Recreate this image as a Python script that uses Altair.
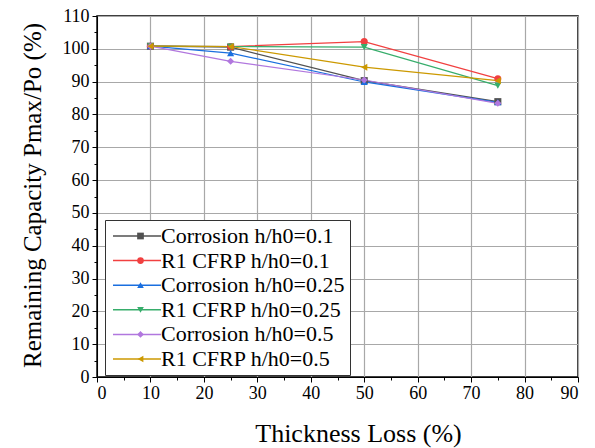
import altair as alt
import pandas as pd

thickness_loss = [10, 25, 50, 75]
series_names = [
    "Corrosion h/h0=0.1",
    "R1 CFRP h/h0=0.1",
    "Corrosion h/h0=0.25",
    "R1 CFRP h/h0=0.25",
    "Corrosion h/h0=0.5",
    "R1 CFRP h/h0=0.5",
]
corr_01 = [100.8, 100.5, 90.3, 83.9]
cfrp_01 = [100.8, 100.7, 102.2, 90.9]
corr_025 = [100.8, 98.7, 89.9, 83.7]
cfrp_025 = [100.8, 100.7, 100.5, 88.8]
corr_05 = [100.8, 96.2, 90.5, 83.4]
cfrp_05 = [100.8, 100.7, 94.4, 90.3]

colors = ["#515151", "#F14040", "#1A6FDF", "#37AD6B", "#B177DE", "#CC9900"]
shapes = ["square", "circle", "triangle-up", "triangle-down", "diamond", "triangle-left"]

all_vals = [corr_01, cfrp_01, corr_025, cfrp_025, corr_05, cfrp_05]
rows = []
for name, vals in zip(series_names, all_vals):
    for x, y in zip(thickness_loss, vals):
        rows.append({"x": x, "y": y, "series": name, "s2": name})
df = pd.DataFrame(rows)

FONT = "Liberation Serif"
label_font = {"condition": {"test": "true", "value": FONT}, "value": FONT}

xaxis = alt.Axis(
    values=list(range(0, 95, 5)),
    labelExpr="datum.value % 10 === 0 ? datum.label : ''",
    tickSize={"condition": {"test": "datum.value % 10 === 0", "value": 5}, "value": 3},
    gridOpacity={"condition": {"test": "datum.value % 10 === 0", "value": 1}, "value": 0},
    title="Thickness Loss (%)",
    titleX=261, titleY=56, titleBaseline="middle",
    labelPadding=2, labelFont=label_font, labelFontSize=18,
    titleFont=FONT, titleFontSize=26,
)
yaxis = alt.Axis(
    values=list(range(0, 115, 5)),
    labelExpr="datum.value % 10 === 0 ? datum.label : ''",
    tickSize={"condition": {"test": "datum.value % 10 === 0", "value": 5}, "value": 3},
    gridOpacity={"condition": {"test": "datum.value % 10 === 0", "value": 1}, "value": 0},
    title="Remaining Capacity Pmax/Po (%)",
    titleX=-65, titleY=179, titleBaseline="middle", titleAngle=-90,
    labelPadding=3, labelFont=label_font, labelFontSize=18,
    titleFont=FONT, titleFontSize=25,
)

x_enc = alt.X("x:Q", scale=alt.Scale(domain=[0, 90], nice=False), axis=xaxis)
y_enc = alt.Y("y:Q", scale=alt.Scale(domain=[0, 110], nice=False), axis=yaxis)

lines = alt.Chart(df).mark_line(strokeWidth=1.2).encode(
    x=x_enc, y=y_enc,
    stroke=alt.Stroke("series:N", sort=series_names,
                      scale=alt.Scale(range=colors),
                      legend=alt.Legend(
                          orient="none", legendX=8, legendY=204, title=None,
                          symbolType="M-4,0H4", symbolSize=144, symbolStrokeWidth=1.5,
                          symbolOffset=16, labelOffset=13,
                          labelFont=FONT, labelFontSize=22, labelColor="black",
                          strokeColor="#333333", padding=5, rowPadding=2.6,
                          fillColor="white", labelLimit=300,
                      )),
    detail="series:N",
)

pt_legend = alt.Legend(
    orient="none", legendX=8, legendY=204, title=None,
    symbolSize=45, symbolOffset=19.5, symbolStrokeWidth=0,
    labelFont=FONT, labelFontSize=22, labelOffset=13,
    labelColor="transparent", padding=5, rowPadding=2.6,
    labelLimit=300,
)

points = alt.Chart(df).mark_point(filled=True, opacity=1).encode(
    x=x_enc, y=y_enc,
    fill=alt.Fill("s2:N", scale=alt.Scale(domain=series_names, range=colors), legend=pt_legend),
    shape=alt.Shape("s2:N", scale=alt.Scale(domain=series_names, range=shapes), legend=pt_legend),
    size=alt.value(50),
)

chart = alt.layer(lines, points).properties(
    width=481, height=361,
    autosize=alt.AutoSizeParams(type="none"),
    padding={"left": 89, "top": 8, "right": 9, "bottom": 72},
).configure_view(
    stroke="black", strokeWidth=1.5,
).configure_axis(
    titleFont=FONT, labelFontSize=18,
    labelColor="black", titleColor="black", titleFontWeight="normal",
    domainColor="black", tickColor="black", gridColor="#a8a8a8", gridWidth=1.2,
)

chart.save("out.html", embed_options={"renderer": "svg", "actions": False})
